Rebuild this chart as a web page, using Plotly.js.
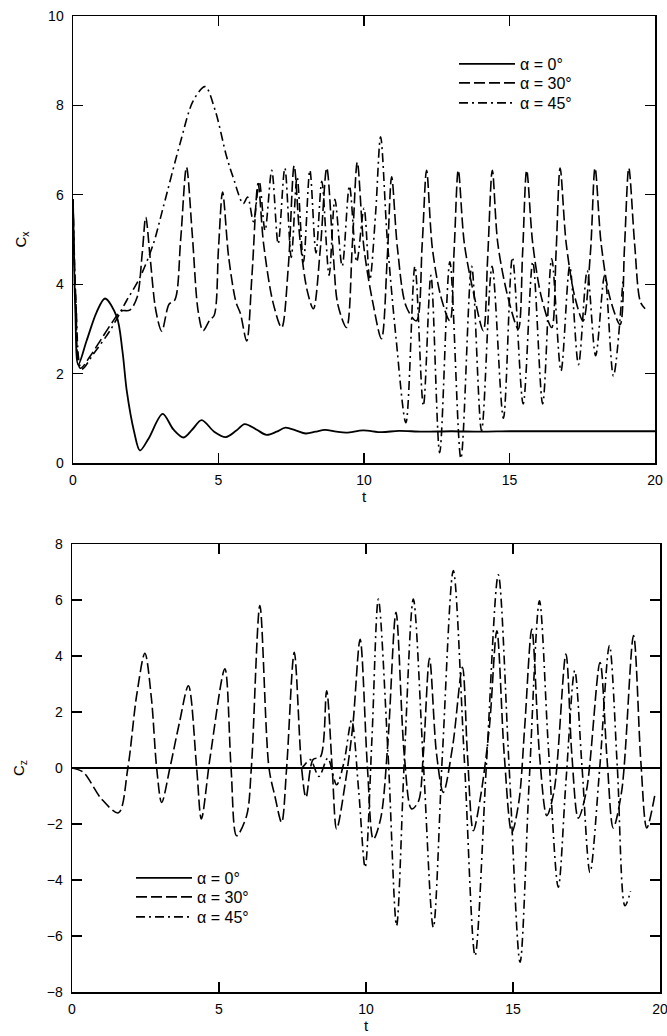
<!DOCTYPE html>
<html>
<head>
<meta charset="utf-8">
<script src="https://cdn.plot.ly/plotly-3.0.1.min.js"></script>
<style>html,body{margin:0;padding:0;background:#fff;}#chart{width:667px;height:1036px;}</style>
</head>
<body>
<div id="chart"></div>
<script>
// ---------- Data ----------
var seriesNames = ['\u03b1 = 0\u00b0', '\u03b1 = 30\u00b0', '\u03b1 = 45\u00b0'];
var xTicks = [0, 5, 10, 15, 20];

// Top panel: Cx vs t
var cxT0 = [0, 0.08, 0.18, 0.47, 0.81, 1.1, 1.5, 1.7, 1.85, 2.1, 2.3, 2.6, 3.08, 3.45, 3.8, 4.1, 4.42, 4.85, 5.25, 5.6, 5.9, 6.3, 6.65, 7.0, 7.3, 7.65, 8.0, 8.33, 8.66, 9.05, 9.4, 9.97, 10.6, 11.2, 12, 13, 14, 15, 16, 17, 18, 19, 20];
var cxV0 = [5.9, 3.4, 2.2, 2.74, 3.37, 3.68, 3.28, 2.5, 1.6, 0.7, 0.28, 0.55, 1.1, 0.75, 0.57, 0.75, 0.96, 0.7, 0.58, 0.72, 0.87, 0.75, 0.63, 0.7, 0.79, 0.73, 0.66, 0.7, 0.74, 0.7, 0.68, 0.73, 0.69, 0.72, 0.7, 0.71, 0.7, 0.71, 0.71, 0.71, 0.71, 0.71, 0.71];

var cxT30 = [0, 0.1, 0.25, 0.6, 0.95, 1.35, 1.65, 1.95, 2.2, 2.38, 2.5, 2.65, 2.85, 3.05, 3.3, 3.5, 3.7, 3.9, 4.1, 4.3, 4.47, 4.7, 4.85, 5.0, 5.14, 5.35, 5.6, 5.75, 5.97, 6.15, 6.36, 6.55, 6.87, 7.17, 7.4, 7.6, 7.8, 8.05, 8.26, 8.5, 8.72, 8.95, 9.1, 9.4, 9.6, 9.77, 10.0, 10.3, 10.6, 10.8, 10.95, 11.15, 11.45, 11.8, 12.0, 12.15, 12.35, 12.65, 12.95, 13.1, 13.24, 13.45, 13.8, 14.1, 14.25, 14.41, 14.6, 14.95, 15.3, 15.45, 15.59, 15.8, 16.1, 16.45, 16.6, 16.74, 16.95, 17.25, 17.53, 17.78, 17.94, 18.15, 18.45, 18.8, 18.95, 19.1, 19.3, 19.5, 19.66];
var cxV30 = [5.9, 3.6, 2.12, 2.4, 2.75, 3.15, 3.4, 3.42, 3.7, 4.7, 5.5, 4.6, 3.4, 2.95, 3.55, 3.65, 5.0, 6.62, 5.1, 3.4, 2.96, 3.2, 3.3, 4.8, 6.06, 4.6, 3.6, 3.35, 2.73, 4.2, 6.25, 4.9, 3.6, 3.03, 4.4, 6.65, 5.0, 3.85, 3.45, 4.8, 6.6, 4.6, 3.55, 3.03, 4.9, 6.73, 4.8, 3.6, 2.78, 4.6, 6.4, 4.8, 3.5, 3.18, 4.9, 6.55, 4.8, 3.7, 3.18, 4.8, 6.55, 4.9, 3.7, 2.96, 4.6, 6.55, 4.9, 3.7, 3.0, 4.7, 6.55, 4.9, 3.7, 3.03, 4.7, 6.6, 4.9, 3.7, 3.18, 4.7, 6.6, 4.9, 3.7, 3.1, 4.8, 6.6, 4.9, 3.6, 3.45];

var cxT45 = [0, 0.1, 0.3, 0.7, 1.27, 1.84, 2.3, 2.76, 3.1, 3.68, 4.13, 4.54, 4.88, 5.28, 5.5, 5.85, 6.0, 6.2, 6.4, 6.6, 6.83, 7.05, 7.28, 7.5, 7.7, 7.92, 8.14, 8.35, 8.55, 8.8, 9.0, 9.25, 9.5, 9.75, 10.0, 10.2, 10.4, 10.57, 10.8, 11.1, 11.44, 11.75, 12.04, 12.3, 12.6, 12.95, 13.33, 13.7, 14.04, 14.4, 14.79, 15.1, 15.47, 15.8, 16.14, 16.45, 16.77, 17.07, 17.37, 17.67, 17.96, 18.27, 18.57, 18.9];
var cxV45 = [5.9, 3.6, 2.1, 2.44, 2.96, 3.63, 4.15, 4.9, 5.72, 7.15, 8.1, 8.42, 7.9, 6.85, 6.4, 5.8, 5.95, 5.4, 6.3, 5.2, 6.55, 4.9, 6.6, 4.6, 6.4, 4.5, 6.55, 4.7, 6.3, 4.2, 5.9, 4.4, 6.2, 4.5, 5.7, 4.1, 5.6, 7.3, 5.0, 2.8, 0.9, 4.4, 1.28, 4.2, 0.23, 4.5, 0.1, 4.4, 0.72, 4.4, 1.0, 4.6, 1.32, 4.5, 1.32, 4.57, 2.06, 4.4, 2.2, 4.3, 2.4, 4.2, 1.95, 4.1];

// Bottom panel: Cz vs t
var czT0 = [0, 20];
var czV0 = [0, 0];

var czT30 = [0, 0.38, 1.0, 1.58, 1.9, 2.2, 2.48, 2.7, 2.88, 3.05, 3.33, 3.65, 3.96, 4.24, 4.4, 4.7, 5.2, 5.41, 5.6, 5.94, 6.1, 6.39, 6.7, 6.9, 7.13, 7.3, 7.56, 7.81, 7.96, 8.2, 8.45, 8.66, 8.85, 9.0, 9.3, 9.55, 9.8, 10.05, 10.25, 10.5, 10.75, 11.02, 11.3, 11.55, 11.78, 11.95, 12.16, 12.4, 12.63, 12.95, 13.28, 13.45, 13.65, 13.9, 14.2, 14.45, 14.7, 14.96, 15.2, 15.4, 15.64, 15.9, 16.15, 16.4, 16.8, 17.0, 17.22, 17.5, 17.96, 18.2, 18.41, 18.7, 19.1, 19.35, 19.55, 19.83];
var czV30 = [0, -0.15, -1.1, -1.6, 0, 2.6, 4.1, 2.5, 0, -1.23, 0, 1.6, 2.94, 0, -1.82, 0.4, 3.54, 0, -2.42, -1.7, 0, 5.8, 0, -1.0, -1.94, 0, 4.13, 0, -1.05, 0.3, 0.4, 2.76, 0, -2.18, -0.5, 1.5, 4.6, 0, -2.54, -1.8, 1.0, 5.56, 0.5, -1.46, -1.2, 0.5, 3.92, 0.5, -0.87, 0.8, 3.6, 0.5, -2.24, -1.0, 1.5, 4.9, 0.5, -2.3, -1.2, 1.5, 4.96, 0.5, -1.7, -0.8, 4.07, 0.5, -1.79, -0.8, 3.77, 0.3, -2.14, -0.8, 4.73, 0.2, -2.14, -0.93];

var czT45 = [0, 2, 4, 6, 7.5, 7.8, 8.1, 8.4, 8.7, 9.0, 9.25, 9.51, 9.75, 9.97, 10.2, 10.42, 10.75, 11.04, 11.3, 11.61, 11.95, 12.29, 12.6, 12.97, 13.35, 13.71, 14.1, 14.5, 14.87, 15.24, 15.55, 15.9, 16.2, 16.54, 16.8, 17.1, 17.35, 17.62, 17.95, 18.28, 18.55, 18.81, 19.0];
var czV45 = [0, 0, 0, 0, 0, 0, 0.3, -0.3, 0.35, -0.6, 0.2, 1.7, -0.8, -3.55, 1.0, 6.03, 0.5, -5.63, 0.2, 6.03, 0.2, -5.69, 0.5, 7.05, 0.2, -6.7, 0.2, 6.9, 0.0, -6.94, -0.5, 5.97, 0.8, -4.26, -0.5, 3.48, 0.0, -3.73, 0.0, 4.37, 0.0, -4.92, -4.4];

// ---------- Styles ----------
var FONT = 'Liberation Sans, Arial, Helvetica, sans-serif';
var styles = [
  {dash: 'solid', width: 1.8},
  {dash: '11px,4px', width: 1.6},
  {dash: '9px,4px,2px,4px', width: 1.6}
];

function tr(x, y, i, xa, ya, leg) {
  return {
    x: x, y: y, type: 'scatter', mode: 'lines', name: seriesNames[i],
    xaxis: xa, yaxis: ya, legend: leg, showlegend: true,
    line: {color: '#000', width: styles[i].width, dash: styles[i].dash, shape: 'spline', smoothing: 0.9},
    hoverinfo: 'skip'
  };
}

var data = [
  tr(cxT0, cxV0, 0, 'x', 'y', 'legend'),
  tr(cxT30, cxV30, 1, 'x', 'y', 'legend2'),
  tr(cxT45, cxV45, 2, 'x', 'y', 'legend3'),
  tr(czT0, czV0, 0, 'x2', 'y2', 'legend4'),
  tr(czT30, czV30, 1, 'x2', 'y2', 'legend5'),
  tr(czT45, czV45, 2, 'x2', 'y2', 'legend6')
];

function axisBase(standoff) {
  return {
    showline: true, linecolor: '#000', linewidth: 1.5, mirror: 'ticks',
    ticks: 'inside', ticklen: 10, tickwidth: 1.3, tickcolor: '#000',
    showgrid: false, zeroline: false, ticklabeloverflow: 'allow',
    ticklabelstandoff: standoff,
    tickfont: {family: FONT, size: 14, color: '#000'},
    fixedrange: true
  };
}

var xa = axisBase(4);
Object.assign(xa, {domain: [73/667, 655/667], range: [0, 20], tickvals: xTicks, anchor: 'y',
  title: {text: 't', font: {family: FONT, size: 15, color: '#000'}, standoff: 0}});
var ya = axisBase(5);
Object.assign(ya, {domain: [1 - 463/1036, 1 - 16/1036], range: [0, 10], dtick: 2, tick0: 0, anchor: 'x',
  title: {text: 'C<sub>x</sub>', font: {family: FONT, size: 15, color: '#000'}, standoff: 18}});
var xa2 = axisBase(4);
Object.assign(xa2, {domain: [72/667, 660/667], range: [0, 20], tickvals: xTicks, anchor: 'y2',
  title: {text: 't', font: {family: FONT, size: 15, color: '#000'}, standoff: 0}});
var ya2 = axisBase(5);
Object.assign(ya2, {domain: [1 - 992/1036, 1 - 544/1036], range: [-8, 8], dtick: 2, tick0: -8, anchor: 'x2',
  title: {text: 'C<sub>z</sub>', font: {family: FONT, size: 15, color: '#000'}, standoff: 18}});

function leg(xpx, ypx) {
  return {
    xanchor: 'left', yanchor: 'middle', x: xpx / 667, y: 1 - ypx / 1036,
    bgcolor: 'rgba(0,0,0,0)', borderwidth: 0,
    font: {family: FONT, size: 16, color: '#000'}, itemwidth: 56,
    itemclick: false, itemdoubleclick: false
  };
}

var layout = {
  width: 667, height: 1036,
  margin: {l: 0, r: 0, t: 0, b: 0},
  paper_bgcolor: '#fff', plot_bgcolor: 'rgba(0,0,0,0)',
  font: {family: FONT, size: 14, color: '#000'},
  xaxis: xa, yaxis: ya, xaxis2: xa2, yaxis2: ya2,
  legend: leg(454, 64), legend2: leg(454, 83), legend3: leg(454, 103),
  legend4: leg(131, 878), legend5: leg(131, 897), legend6: leg(131, 917),
  showlegend: true
};

Plotly.newPlot('chart', data, layout, {staticPlot: true, displayModeBar: false});
</script>
</body>
</html>
